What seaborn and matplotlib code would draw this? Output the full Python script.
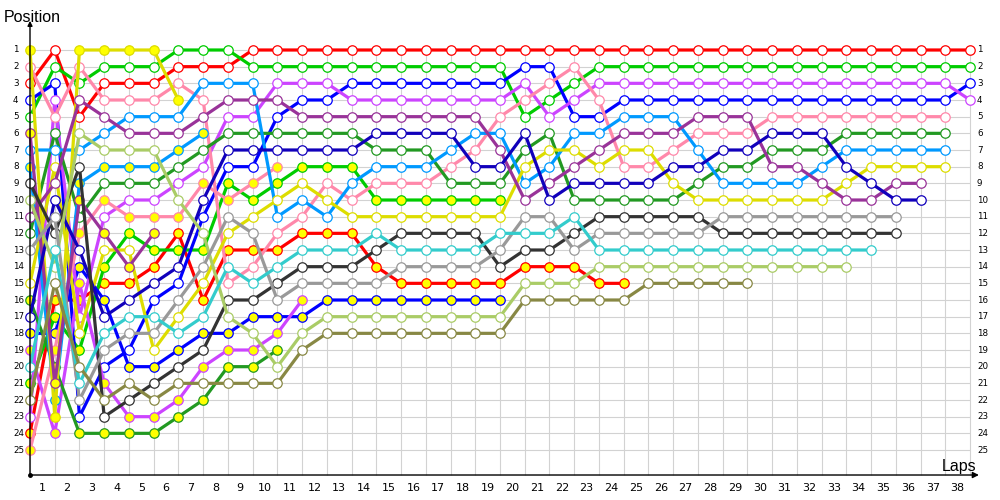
import matplotlib
matplotlib.use("Agg")
import matplotlib.pyplot as plt
import pandas as pd
import seaborn as sns

# ---- drivers: colour and marker fill (second car of a team = yellow fill) ----
drivers = ["R", "RY", "G", "GY", "B", "BY", "M", "MY", "P", "PY", "DG", "DGY",
           "LB", "LBY", "Y", "YY", "PU", "PUY", "DB", "K", "LG", "GR", "C", "O"]
line_colors = {
    "R": "#ff0000", "RY": "#ff0000", "G": "#00cc00", "GY": "#00cc00",
    "B": "#0000ff", "BY": "#0000ff", "M": "#cc44ff", "MY": "#cc44ff",
    "P": "#ff88aa", "PY": "#ff88aa", "DG": "#229922", "DGY": "#229922",
    "LB": "#0099ff", "LBY": "#0099ff", "Y": "#dddd00", "YY": "#dddd00",
    "PU": "#993399", "PUY": "#993399", "DB": "#1100bb", "K": "#333333",
    "LG": "#aacc66", "GR": "#999999", "C": "#33cccc", "O": "#888844",
}
yellow_fill = ["RY", "GY", "BY", "MY", "PY", "DGY", "LBY", "YY", "PUY"]

# ---- running order per lap (position 1 first; "" = empty slot) ----
lap_00 = ["YY", "P", "R", "B", "G", "PUY", "LB", "LBY", "K", "LG", "PU", "DG", "GR", "",
          "Y", "DGY", "DB", "BY", "MY", "C", "GY", "O", "M", "RY", "PY"]
lap_01 = ["R", "G", "B", "M", "P", "DG", "LB", "Y", "PU", "DB", "GR", "K", "C", "LG",
          "O", "RY", "GY", "BY", "PY", "DGY", "PUY", "LBY", "YY", "MY"]
lap_02 = ["YY", "P", "G", "PU", "R", "LG", "LB", "K", "LBY", "PUY", "DG", "PY", "DB", "BY",
          "MY", "RY", "M", "Y", "GY", "O", "C", "GR", "B", "DGY"]
lap_03 = ["YY", "G", "R", "P", "PU", "LB", "LG", "LBY", "DG", "PY", "M", "PUY", "Y", "GY",
          "RY", "BY", "DB", "C", "GR", "B", "MY", "O", "K", "DGY"]
lap_04 = ["YY", "G", "R", "P", "LB", "PU", "LG", "LBY", "DG", "M", "PY", "GY", "Y", "PUY",
          "RY", "DB", "C", "GR", "B", "BY", "O", "K", "MY", "DGY"]
lap_05 = ["YY", "G", "R", "P", "LB", "PU", "LG", "LBY", "DG", "M", "PY", "PUY", "GY", "RY",
          "DB", "B", "C", "GR", "Y", "BY", "K", "O", "MY", "DGY"]
lap_06 = ["G", "R", "P", "YY", "LB", "PU", "LBY", "DG", "M", "LG", "PY", "RY", "GY", "DB",
          "B", "GR", "Y", "C", "BY", "K", "O", "MY", "DGY"]
lap_07 = ["G", "R", "LB", "P", "PU", "LBY", "DG", "M", "PY", "DB", "B", "LG", "GY", "GR",
          "Y", "RY", "C", "BY", "K", "MY", "O", "DGY"]
lap_08 = ["G", "R", "LB", "PU", "M", "DG", "DB", "B", "GY", "PY", "GR", "Y", "RY", "C",
          "P", "K", "LG", "BY", "MY", "DGY", "O"]
lap_09 = ["R", "G", "LB", "PU", "M", "DG", "DB", "B", "PY", "GY", "Y", "GR", "RY", "P",
          "C", "K", "BY", "LG", "MY", "DGY", "O"]
lap_10 = ["R", "G", "M", "PU", "B", "DG", "DB", "PY", "GY", "Y", "LB", "P", "RY", "C",
          "K", "GR", "BY", "MY", "DGY", "LG", "O"]
lap_11 = ["R", "G", "M", "B", "PU", "DG", "DB", "GY", "Y", "LB", "P", "RY", "C", "K",
          "GR", "MY", "BY", "LG", "O"]
lap_12 = ["R", "G", "M", "B", "PU", "DG", "DB", "GY", "P", "Y", "LB", "RY", "C", "K",
          "GR", "BY", "LG", "O"]
lap_13 = ["R", "G", "B", "M", "PU", "DG", "DB", "GY", "LB", "P", "Y", "RY", "C", "K",
          "GR", "BY", "LG", "O"]
lap_14 = ["R", "G", "B", "M", "PU", "DB", "DG", "LB", "P", "GY", "Y", "C", "K", "RY",
          "GR", "BY", "LG", "O"]
lap_15 = ["R", "G", "B", "M", "PU", "DB", "DG", "LB", "P", "GY", "Y", "K", "C", "GR",
          "RY", "BY", "LG", "O"]
lap_16 = ["R", "G", "B", "M", "PU", "DB", "DG", "LB", "P", "GY", "Y", "K", "C", "GR",
          "RY", "BY", "LG", "O"]
lap_17 = ["R", "G", "B", "M", "PU", "DB", "LB", "P", "DG", "GY", "Y", "K", "C", "GR",
          "RY", "BY", "LG", "O"]
lap_18 = ["R", "G", "B", "M", "PU", "LB", "P", "DB", "DG", "GY", "Y", "K", "C", "GR",
          "RY", "BY", "LG", "O"]
lap_19 = ["R", "G", "B", "M", "P", "LB", "PU", "DB", "DG", "GY", "Y", "C", "GR", "K",
          "RY", "BY", "LG", "O"]
lap_20 = ["R", "B", "M", "P", "G", "DB", "DG", "Y", "LB", "PU", "GR", "C", "K", "RY",
          "LG", "O"]
lap_21 = ["R", "B", "P", "G", "M", "DG", "Y", "LB", "PU", "DB", "GR", "C", "K", "RY",
          "LG", "O"]
lap_22 = ["R", "P", "G", "M", "B", "LB", "Y", "PU", "DB", "DG", "C", "K", "GR", "RY",
          "LG", "O"]
lap_23 = ["R", "G", "M", "P", "B", "LB", "PU", "Y", "DB", "DG", "K", "GR", "C", "LG",
          "RY", "O"]
lap_24 = ["R", "G", "M", "B", "LB", "PU", "Y", "P", "DB", "DG", "K", "GR", "C", "LG",
          "RY", "O"]
lap_25 = ["R", "G", "M", "B", "LB", "PU", "Y", "P", "DB", "DG", "K", "GR", "C", "LG", "O"]
lap_26 = ["R", "G", "M", "B", "LB", "PU", "P", "DB", "Y", "DG", "K", "GR", "C", "LG", "O"]
lap_27 = ["R", "G", "M", "B", "PU", "P", "LB", "DB", "DG", "Y", "K", "GR", "C", "LG", "O"]
lap_28 = ["R", "G", "M", "B", "PU", "P", "DB", "DG", "LB", "Y", "GR", "K", "C", "LG", "O"]
lap_29 = ["R", "G", "M", "B", "PU", "P", "DB", "DG", "LB", "Y", "GR", "K", "C", "LG", "O"]
lap_30 = ["R", "G", "M", "B", "P", "DB", "DG", "PU", "LB", "Y", "GR", "K", "C", "LG"]
lap_31 = ["R", "G", "M", "B", "P", "DB", "DG", "PU", "LB", "Y", "GR", "K", "C", "LG"]
lap_32 = ["R", "G", "M", "B", "P", "DB", "DG", "LB", "PU", "Y", "GR", "K", "C", "LG"]
lap_33 = ["R", "G", "M", "B", "P", "DG", "LB", "DB", "Y", "PU", "GR", "K", "C", "LG"]
lap_34 = ["R", "G", "M", "B", "P", "DG", "LB", "Y", "DB", "PU", "GR", "K", "C"]
lap_35 = ["R", "G", "M", "B", "P", "DG", "LB", "Y", "PU", "DB", "GR", "K"]
lap_36 = ["R", "G", "M", "B", "P", "DG", "LB", "Y", "PU", "DB"]
lap_37 = ["R", "G", "M", "B", "P", "DG", "LB", "Y"]
lap_38 = ["R", "G", "B", "M"]

lap_orders = [lap_00, lap_01, lap_02, lap_03, lap_04, lap_05, lap_06, lap_07, lap_08,
              lap_09, lap_10, lap_11, lap_12, lap_13, lap_14, lap_15, lap_16, lap_17,
              lap_18, lap_19, lap_20, lap_21, lap_22, lap_23, lap_24, lap_25, lap_26,
              lap_27, lap_28, lap_29, lap_30, lap_31, lap_32, lap_33, lap_34, lap_35,
              lap_36, lap_37, lap_38]

position_labels = list(range(1, 26))
lap_labels = list(range(1, 39))

rows = []
for lap, order in enumerate(lap_orders):
    for i, d in enumerate(order):
        if d:
            rows.append({"driver": d, "lap": lap, "pos": i + 1})
df = pd.DataFrame(rows)

# ---- figure ----
sns.set_style("white")
plt.rcParams["font.family"] = ["DejaVu Sans"]
W, H = 1000, 500
fig = plt.figure(figsize=(W / 100, H / 100), dpi=100)
ax = fig.add_axes([0, 0, 1, 1])

px_lap = 24.737   # pixels per lap
px_pos = 16.667   # pixels per position
x0_px, y1_px = 30, 50
ax.set_xlim(-x0_px / px_lap, (W - x0_px) / px_lap)
ax.set_ylim(1 + (H - y1_px) / px_pos, 1 - y1_px / px_pos)
ax.axis("off")

n_laps = len(lap_orders) - 1
axis_pos = 26.5
grid_c = "#d2d2d2"
ax.vlines(range(0, n_laps + 1), 0.7, axis_pos, colors=grid_c, lw=0.8, zorder=0)
ax.hlines(position_labels, 0, n_laps, colors=grid_c, lw=0.8, zorder=0)

for d in drivers:
    sub = df[df["driver"] == d]
    col = line_colors[d]
    fc = "#ffff00" if d in yellow_fill else "white"
    sns.lineplot(data=sub, x="lap", y="pos", color=col, estimator=None, sort=True,
                 marker="o", markersize=6.8, markerfacecolor=fc,
                 markeredgecolor=col, markeredgewidth=0.9, linewidth=2.3,
                 legend=False, ax=ax, zorder=3)
ax.axis("off")

# axes with arrows
ax.annotate("", xy=(0, -0.75), xytext=(0, axis_pos),
            arrowprops=dict(arrowstyle="-|>", color="black", lw=1.0,
                            mutation_scale=7, shrinkA=0, shrinkB=0), zorder=5)
ax.annotate("", xy=(38.36, axis_pos), xytext=(0, axis_pos),
            arrowprops=dict(arrowstyle="-|>", color="black", lw=1.0,
                            mutation_scale=9, shrinkA=0, shrinkB=0), zorder=5)
ax.plot([0], [axis_pos], marker="o", ms=2.5, color="black", zorder=6)

# labels
for p in position_labels:
    ax.text((13 - x0_px) / px_lap, p, str(p), ha="left", va="center", fontsize=6.3,
            color="black")
    ax.text((977 - x0_px) / px_lap, p, str(p), ha="left", va="center", fontsize=6.3,
            color="black")
for k in lap_labels:
    ax.text(k - 0.5, 1 + (488 - y1_px) / px_pos, str(k), ha="center", va="center",
            fontsize=8, color="black")

fig.text(4 / W, 1 - 22 / H, "Position", ha="left", va="baseline", fontsize=11.5,
         family="Liberation Sans", color="black")
fig.text(976 / W, 1 - 471 / H, "Laps", ha="right", va="baseline", fontsize=11.5,
         family="Liberation Sans", color="black")

fig.savefig("out.png", dpi=100, facecolor="white")
